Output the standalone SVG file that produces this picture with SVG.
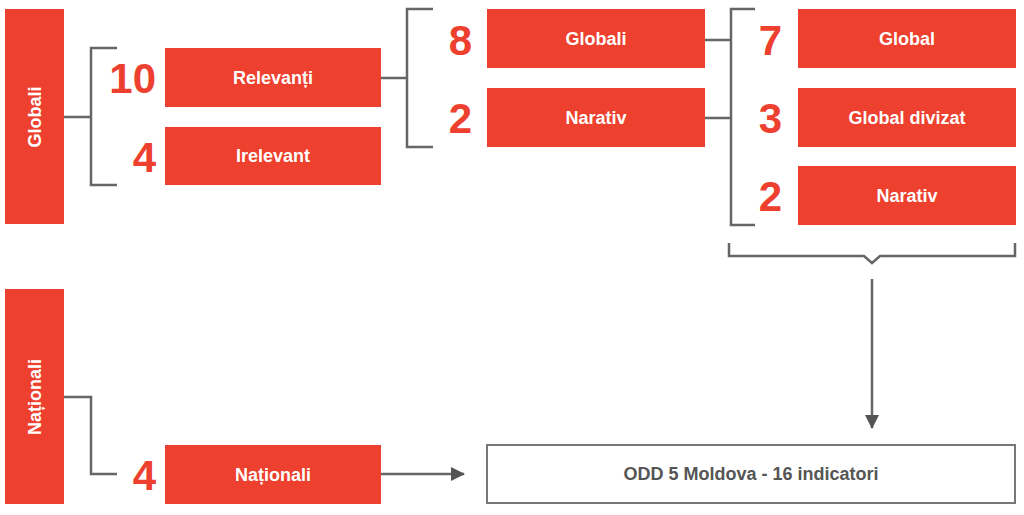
<svg xmlns="http://www.w3.org/2000/svg" width="1024" height="515" viewBox="0 0 1024 515">
<style>
.b{fill:#ee402e}
.t{fill:#fff;font-family:"Liberation Sans",Arial,sans-serif;font-weight:bold;font-size:18px;text-anchor:middle;dominant-baseline:central}
.n{fill:#ee402e;font-family:"Liberation Sans",Arial,sans-serif;font-weight:bold;font-size:42px;text-anchor:end;dominant-baseline:central}
.c{fill:none;stroke:#666;stroke-width:2.5}
</style>
<defs><marker id="a" markerWidth="8" markerHeight="8" refX="7" refY="4" orient="auto" markerUnits="userSpaceOnUse" viewBox="0 0 8 8"><path d="M0,0L8,4L0,8z" fill="#555"/></marker>
<marker id="ah" markerWidth="14" markerHeight="14" refX="13" refY="7" orient="auto" markerUnits="userSpaceOnUse"><path d="M0,0L14,7L0,14z" fill="#555"/></marker></defs>
<rect width="1024" height="515" fill="#fff"/>
<g id="connectors">
<path class="c" d="M64,117H91M117,48H91V185H117"/>
<path class="c" d="M381,78H407M433,9H407V147H433"/>
<path class="c" d="M705,40H731M705,118H731M755,9H731V225H755"/>
<path class="c" d="M729,243V256H864L872,263L880,256H1015V243"/>
<path class="c" d="M872,279V428" marker-end="url(#ah)"/>
<path class="c" d="M64,397H91V474H117"/>
<path class="c" d="M381,474H464" marker-end="url(#ah)"/>
</g>
<g id="globali"><rect class="b" x="5" y="9" width="59" height="215"/><text class="t" transform="translate(35,117) rotate(-90)">Globali</text></g>
<g id="nationali"><rect class="b" x="5" y="289" width="59" height="215"/><text class="t" transform="translate(35,397) rotate(-90)">Naționali</text></g>
<g id="relevanti"><text class="n" x="156" y="78">10</text><rect class="b" x="165" y="48" width="216" height="59"/><text class="t" x="273" y="78">Relevanți</text></g>
<g id="irelevant"><text class="n" x="156" y="157">4</text><rect class="b" x="165" y="127" width="216" height="58"/><text class="t" x="273" y="156">Irelevant</text></g>
<g id="globali2"><text class="n" x="472" y="40">8</text><rect class="b" x="487" y="9" width="218" height="59"/><text class="t" x="596" y="39">Globali</text></g>
<g id="narativ1"><text class="n" x="472" y="118">2</text><rect class="b" x="487" y="88" width="218" height="59"/><text class="t" x="596" y="118">Narativ</text></g>
<g id="global"><text class="n" x="782" y="40">7</text><rect class="b" x="798" y="9" width="218" height="59"/><text class="t" x="907" y="39">Global</text></g>
<g id="globaldivizat"><text class="n" x="782" y="118">3</text><rect class="b" x="798" y="88" width="218" height="59"/><text class="t" x="907" y="118">Global divizat</text></g>
<g id="narativ2"><text class="n" x="782" y="196">2</text><rect class="b" x="798" y="166" width="218" height="59"/><text class="t" x="907" y="196">Narativ</text></g>
<g id="nationali2"><text class="n" x="156" y="475">4</text><rect class="b" x="165" y="445" width="216" height="59"/><text class="t" x="273" y="475">Naționali</text></g>
<g id="odd"><rect x="487" y="445" width="528" height="58" fill="#fff" stroke="#777" stroke-width="2"/><text class="t" x="751" y="474" style="fill:#555">ODD 5 Moldova - 16 indicatori</text></g>
</svg>
